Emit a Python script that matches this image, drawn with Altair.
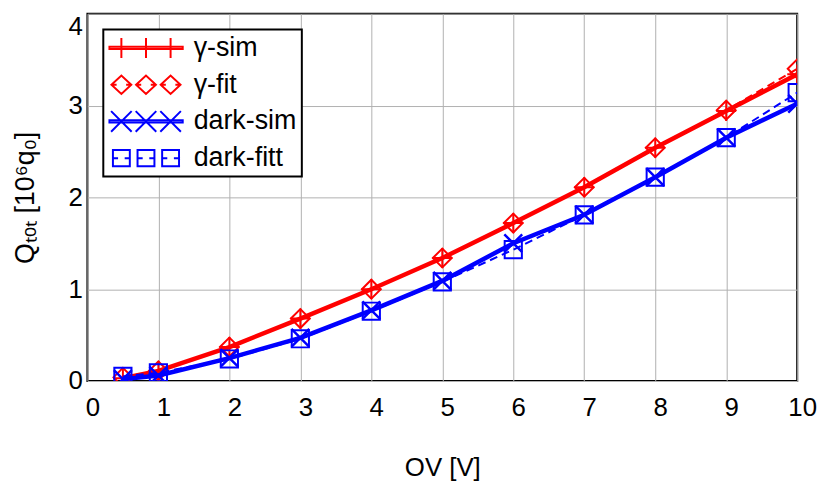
import altair as alt
import pandas as pd

# ---- data ----
ov = [0.5, 1, 2, 3, 4, 5, 6, 7, 8, 9, 10]
gamma_sim = [0.03, 0.11, 0.37, 0.68, 1.00, 1.34, 1.72, 2.11, 2.54, 2.94, 3.34]
gamma_fit = [0.04, 0.11, 0.37, 0.68, 1.00, 1.34, 1.72, 2.11, 2.54, 2.95, 3.40]
dark_sim = [0.02, 0.06, 0.25, 0.47, 0.77, 1.09, 1.50, 1.81, 2.22, 2.65, 3.02]
dark_fit = [0.05, 0.09, 0.24, 0.46, 0.76, 1.08, 1.43, 1.81, 2.22, 2.65, 3.14]

series_names = ["γ-sim", "γ-fit", "dark-sim", "dark-fitt"]
series_colors = ["#ff0000", "#ff0000", "#0000ff", "#0000ff"]
x_ticks = [0, 1, 2, 3, 4, 5, 6, 7, 8, 9, 10]
y_ticks = [0, 1, 2, 3, 4]

rows = []
for name, vals in zip(series_names, [gamma_sim, gamma_fit, dark_sim, dark_fit]):
    for xv, yv in zip(ov, vals):
        rows.append({"ov": xv, "q": yv, "series": name})
df = pd.DataFrame(rows)

RED = "#ff0000"
BLUE = "#0000ff"
FONT = "Liberation Sans"

# ---- legend symbols: line with three markers (custom paths) ----
cx = [-0.67, 0.0, 0.67]
f = lambda v: f"{v:.3f}"
bar = "M-1,-0.03H1V0.03H-1Z"
plus_leg = bar + "".join(f"M{f(c)},-0.27V0.27" for c in cx)
dia_leg = "".join(
    f"M{f(c-0.27)},0L{f(c)},-0.25L{f(c+0.27)},0L{f(c)},0.25Z"
    f"M{f(c-0.27)},0H{f(c-0.13)}M{f(c+0.13)},0H{f(c+0.27)}" for c in cx)
x_leg = bar + "".join(
    f"M{f(c-0.28)},-0.28L{f(c+0.28)},0.28M{f(c-0.28)},0.28L{f(c+0.28)},-0.28" for c in cx)
sq_leg = "".join(
    f"M{f(c-0.23)},-0.22H{f(c+0.23)}V0.22H{f(c-0.23)}Z"
    f"M{f(c-0.23)},0H{f(c-0.09)}M{f(c+0.09)},0H{f(c+0.23)}" for c in cx)
legend_paths = [plus_leg, dia_leg, x_leg, sq_leg]

PLUS = "M-1,0H1M0,-1V1"
XMARK = "M-1,-1L1,1M-1,1L1,-1"

base = alt.Chart(df).encode(
    x=alt.X("ov:Q", scale=alt.Scale(domain=[0, 10], nice=False, zero=False),
            axis=alt.Axis(values=x_ticks, format="d", title="OV [V]",
                          labelFlush=False, labelOverlap=False, labelOffset=5,
                          labelPadding=14, titleY=95, titleBaseline="alphabetic")),
    y=alt.Y("q:Q", scale=alt.Scale(domain=[0, 4], nice=False),
            axis=alt.Axis(values=y_ticks, format="d", title="Qₜₒₜ [10⁶q₀]",
                          labelBaseline=alt.condition("datum.value == 4",
                                                      alt.value("top"),
                                                      alt.value("middle")),
                          labelPadding=5, titleX=-54, titleBaseline="alphabetic",
                          titleFontSize=27)),
)


def sel(name):
    return base.transform_filter(alt.datum.series == name)


l_gfit = sel("γ-fit").mark_line(color=RED, strokeWidth=2, strokeDash=[8, 5], clip=True)
l_gsim = sel("γ-sim").mark_line(color=RED, strokeWidth=4.5, clip=True)
m_gsim = sel("γ-sim").mark_point(shape=PLUS, size=400, color=RED, strokeWidth=2,
                                 filled=False, opacity=1, clip=True)
m_gfit = sel("γ-fit").mark_point(shape="diamond", size=361, color=RED, strokeWidth=2,
                                 filled=False, opacity=1, clip=True)
l_dfit = sel("dark-fitt").mark_line(color=BLUE, strokeWidth=2, strokeDash=[8, 5], clip=True)
l_dsim = sel("dark-sim").mark_line(color=BLUE, strokeWidth=4.5, clip=True)
m_dsim = sel("dark-sim").mark_point(shape=XMARK, size=324, color=BLUE, strokeWidth=2.5,
                                    filled=False, opacity=1, clip=True)
m_dfit = sel("dark-fitt").mark_point(shape="square", size=300, color=BLUE, strokeWidth=2,
                                     filled=False, opacity=1, clip=True)

leg = alt.Legend(orient="none", legendX=16, legendY=16, title=None,
                 symbolSize=5476, symbolStrokeWidth=2, symbolOpacity=1,
                 labelFontSize=27, labelFont=FONT, labelColor="black",
                 labelOffset=10, padding=5, rowPadding=9, clipHeight=27,
                 strokeColor="black", fillColor="white", cornerRadius=0)

legend_layer = base.mark_point(filled=False, opacity=0).encode(
    color=alt.Color("series:N", scale=alt.Scale(domain=series_names, range=series_colors),
                    legend=leg),
    shape=alt.Shape("series:N", scale=alt.Scale(domain=series_names, range=legend_paths),
                    legend=leg),
)

chart = alt.layer(
    l_gfit, l_gsim, m_gsim, m_gfit, l_dfit, l_dsim, m_dsim, m_dfit, legend_layer
).properties(
    width=715, height=370,
    autosize=alt.AutoSizeParams(type="none"),
    padding={"left": 80, "top": 4, "right": 25, "bottom": 104},
).configure(
    font=FONT, background="white"
).configure_view(
    stroke="black", strokeWidth=2
).configure_axis(
    domain=False, ticks=False, grid=True, gridColor="#b0b0b0", gridWidth=1,
    labelFont=FONT, labelFontSize=26, labelColor="black",
    titleFont=FONT, titleFontSize=26, titleFontWeight="normal", titleColor="black",
).configure_legend(
    strokeWidth=2
)

chart.save("out.html", embed_options={"renderer": "svg", "actions": False})
